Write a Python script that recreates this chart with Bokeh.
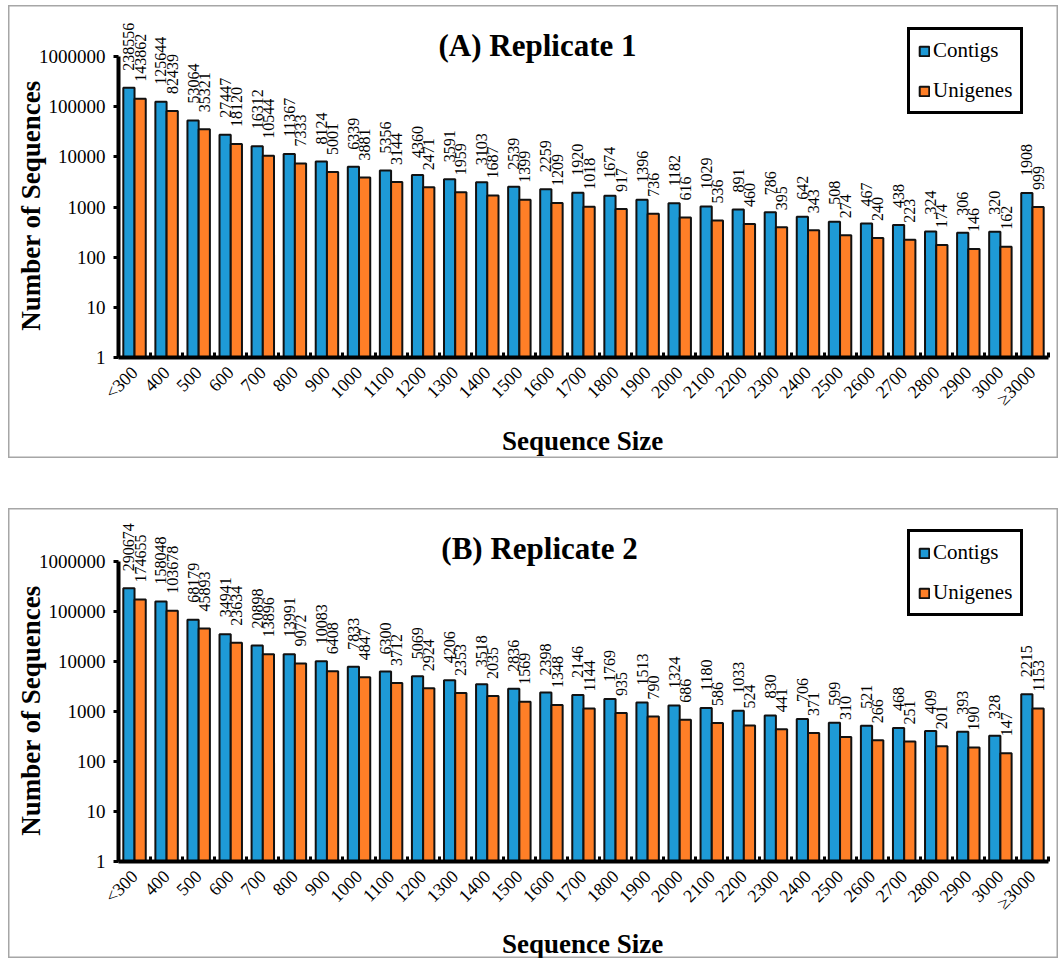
from math import pi
from bokeh.plotting import figure
from bokeh.models import (ColumnDataSource, FixedTicker, NumeralTickFormatter,
                          CustomJSTickFormatter, Label, Legend, LegendItem, Spacer, Range1d)
from bokeh.layouts import column
from bokeh.embed import file_html
from bokeh.resources import INLINE
from bokeh.core.properties import value

categories = ["<300", "400", "500", "600", "700", "800", "900", "1000", "1100", "1200",
              "1300", "1400", "1500", "1600", "1700", "1800", "1900", "2000", "2100", "2200",
              "2300", "2400", "2500", "2600", "2700", "2800", "2900", "3000", "≥3000"]

contigs_r1 = [238556, 125644, 53064, 27447, 16312, 11367, 8124, 6339, 5356, 4360,
              3591, 3103, 2539, 2259, 1920, 1674, 1396, 1182, 1029, 891,
              786, 642, 508, 467, 438, 324, 306, 320, 1908]
unigenes_r1 = [143862, 82439, 35321, 18120, 10544, 7333, 5001, 3881, 3144, 2471,
               1959, 1687, 1399, 1209, 1018, 917, 736, 616, 536, 460,
               395, 343, 274, 240, 223, 174, 146, 162, 999]
contigs_r2 = [290674, 158048, 68179, 34941, 20898, 13991, 10083, 7833, 6300, 5069,
              4206, 3518, 2836, 2398, 2146, 1769, 1513, 1324, 1180, 1033,
              830, 706, 599, 521, 468, 409, 393, 328, 2215]
unigenes_r2 = [174655, 103678, 45893, 23634, 13896, 9072, 6408, 4847, 3712, 2924,
               2353, 2035, 1569, 1348, 1144, 935, 790, 686, 586, 524,
               441, 371, 310, 266, 251, 201, 190, 147, 1153]

y_ticks = [1, 10, 100, 1000, 10000, 100000, 1000000]

SERIF = "Liberation Serif"
BLUE = "#1E9AD6"
ORANGE = "#FF7F27"

n = len(categories)
centers = [i + 0.5 for i in range(n)]
boundaries = list(range(n + 1))
BAR_W = 0.35
OFF = 0.175


def make_panel(title, contigs, unigenes, height, y_lo_exp, y_hi_exp,
               title_xy, ylab_xy, xlab_xy, legend_xy):
    src = ColumnDataSource(dict(
        xc=[c - OFF for c in centers], xu=[c + OFF for c in centers],
        contigs=contigs, unigenes=unigenes,
        contigs_lbl=[str(v) for v in contigs],
        unigenes_lbl=[str(v) for v in unigenes],
    ))
    p = figure(width=1050, height=height, title=None,
               x_range=Range1d(-3.43, n + 0.312),
               y_range=Range1d(10 ** y_lo_exp, 10 ** y_hi_exp), y_axis_type="log",
               min_border=0, min_border_left=0, min_border_right=0,
               min_border_top=0, min_border_bottom=0,
               output_backend="svg", toolbar_location=None, tools="")
    p.outline_line_color = "#a6a6a6"
    p.outline_line_width = 2
    p.xgrid.grid_line_color = None
    p.ygrid.grid_line_color = None
    p.background_fill_color = "white"
    p.border_fill_color = "white"

    r1 = p.vbar(x="xc", top="contigs", bottom=1, width=BAR_W, source=src,
                fill_color=BLUE, line_color="#111111", line_width=2)
    r2 = p.vbar(x="xu", top="unigenes", bottom=1, width=BAR_W, source=src,
                fill_color=ORANGE, line_color="#111111", line_width=2)

    common = dict(angle=pi / 2, text_align="left", text_baseline="middle",
                  y_offset=-17, text_font=value(SERIF), text_font_size="16px",
                  text_color="black", source=src)
    p.text(x="xc", y="contigs", text="contigs_lbl", **common)
    p.text(x="xu", y="unigenes", text="unigenes_lbl", **common)

    # y axis
    ya = p.yaxis[0]
    ya.fixed_location = 0
    ya.ticker = FixedTicker(ticks=y_ticks)
    ya.formatter = NumeralTickFormatter(format="0")
    ya.bounds = (1, 1000000)
    ya.minor_tick_line_color = None
    ya.major_tick_in = 0
    ya.major_tick_out = 5
    ya.major_tick_line_width = 3
    ya.axis_line_width = 4
    ya.major_label_standoff = 8
    ya.major_label_text_font = SERIF
    ya.major_label_text_font_size = "19px"
    ya.major_label_text_color = "black"

    # x axis
    xa = p.xaxis[0]
    xa.fixed_location = 1
    xa.bounds = (0, n)
    xa.ticker = FixedTicker(ticks=centers, minor_ticks=boundaries)
    xa.formatter = CustomJSTickFormatter(
        args=dict(labels=categories),
        code="const i = Math.round(tick - 0.5); return (i >= 0 && i < labels.length) ? labels[i] : '';")
    xa.major_tick_line_color = None
    xa.minor_tick_in = 5
    xa.minor_tick_out = 0
    xa.minor_tick_line_width = 3
    xa.minor_tick_line_color = "black"
    xa.axis_line_width = 4
    xa.major_label_orientation = pi / 4
    xa.major_label_text_font = SERIF
    xa.major_label_text_font_size = "18px"
    xa.major_label_text_color = "black"
    xa.major_label_standoff = 6

    def lab(xy, text, size, angle=0.0):
        p.add_layout(Label(x=xy[0], y=xy[1], x_units="screen", y_units="screen",
                           angle=angle, text=text, text_align="center",
                           text_baseline="middle", text_font=SERIF,
                           text_font_style="bold", text_font_size=size,
                           text_color="black"))

    lab(title_xy, title, "31px")
    lab(ylab_xy, "Number of Sequences", "27px", pi / 2)
    lab(xlab_xy, "Sequence Size", "27px")

    legend = Legend(items=[LegendItem(label="Contigs", renderers=[r1]),
                           LegendItem(label="Unigenes", renderers=[r2])],
                    location=legend_xy, margin=0, padding=8, spacing=15,
                    label_height=23, glyph_height=12, glyph_width=12,
                    label_standoff=3, label_text_font=SERIF,
                    label_text_font_size="21px", label_text_color="black",
                    border_line_color="black", border_line_width=3,
                    border_line_alpha=1.0,
                    background_fill_color="white", background_fill_alpha=1)
    p.add_layout(legend)
    return p


pA = make_panel("(A) Replicate 1", contigs_r1, unigenes_r1, height=453,
                y_lo_exp=-2.013, y_hi_exp=7.017,
                title_xy=(529, 413), ylab_xy=(22, 253), xlab_xy=(574, 18),
                legend_xy=(899, 344))
pB = make_panel("(B) Replicate 2", contigs_r2, unigenes_r2, height=450,
                y_lo_exp=-1.94, y_hi_exp=7.06,
                title_xy=(531, 410), ylab_xy=(22, 248), xlab_xy=(574, 15),
                legend_xy=(899, 342))

layout = column(pA, Spacer(height=50), pB, margin=(5, 0, 0, 8))
open("out.html", "w").write(file_html(layout, INLINE))
